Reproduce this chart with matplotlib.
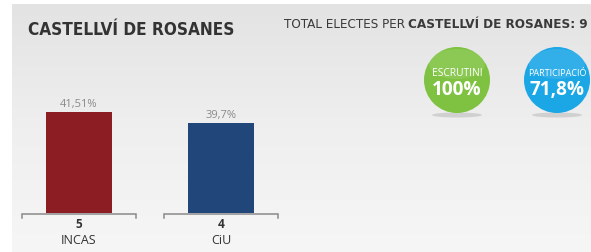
import matplotlib
matplotlib.use("Agg")
import matplotlib.pyplot as plt
import matplotlib.transforms as mtransforms
from matplotlib.patches import Circle, Ellipse
from matplotlib.colors import LinearSegmentedColormap
import numpy as np

parties = ["INCAS", "CiU"]
percents = [41.51, 39.7]
percent_labels = ["41,51%", "39,7%"]
seats = [5, 4]
bar_colors = ["#8c1d23", "#20467a"]

town = "CASTELLVÍ DE ROSANES"
total_seats = 9
scrutiny = "100%"
turnout = "71,8%"

fig = plt.figure(figsize=(5.91, 2.52), dpi=100)
fig.patch.set_facecolor("white")
renderer = fig.canvas.get_renderer()


def fit_width(texts, target):
    # shrink/grow a group of texts so their joint width is target pixels
    fig.canvas.draw()
    boxes = [t.get_window_extent(renderer) for t in texts]
    width = max(b.x1 for b in boxes) - min(b.x0 for b in boxes)
    scale = target / width
    for t in texts:
        t.set_fontsize(t.get_fontsize() * scale)


# background layer in pixel coordinates
bg = fig.add_axes([0, 0, 1, 1])
bg.set_xlim(0, 591)
bg.set_ylim(252, 0)
bg.axis("off")

grad = np.linspace(0, 1, 256).reshape(-1, 1)
cmap = LinearSegmentedColormap.from_list("panel", ["#e3e3e3", "#efefef", "#f6f6f6"])
bg.imshow(grad, cmap=cmap, aspect="auto", extent=(12, 591, 252, 4), zorder=0)

narrow = dict(family=["DejaVu Sans"], fontstretch="condensed")

title = bg.text(28, 35, town, fontsize=15, fontweight="bold", color="#333333",
                va="baseline", **narrow)
fit_width([title], 208)

bold_part = bg.text(588, 28, town + ": " + str(total_seats), fontsize=10,
                    fontweight="bold", color="#3a3a3a",
                    ha="right", va="baseline", **narrow)
reg_part = bg.annotate("TOTAL ELECTES PER ", xy=(0, 0), xycoords=bold_part,
                       fontsize=10, color="#3a3a3a",
                       ha="right", va="bottom", **narrow)
fit_width([bold_part, reg_part], 304)
reg_part.set_fontsize(bold_part.get_fontsize())

# badges
badges = [
    (457, "#7fc241", "ESCRUTINI", scrutiny, 50, 50),
    (557, "#1ba6e6", "PARTICIPACIÓ", turnout, 58, 55),
]
for cx, col, label, value, w_label, w_value in badges:
    bg.add_patch(Ellipse((cx, 115), 50, 5, color="#9a9a9a", alpha=0.35, lw=0, zorder=1))
    bg.add_patch(Circle((cx, 80), 33, color=col, lw=0, zorder=2))
    bg.add_patch(Ellipse((cx, 64), 56, 30, color="white", alpha=0.10, lw=0, zorder=3))
    t1 = bg.text(cx, 73, label, fontsize=6.5, color="white", family="Open Sans",
                 ha="center", va="center", zorder=4)
    t2 = bg.text(cx, 90, value, fontsize=14, fontweight="bold", color="white",
                 family="Open Sans", ha="center", va="center", zorder=4)
    fit_width([t1], w_label)
    fit_width([t2], w_value)

# bars
ax = fig.add_axes([8 / 591, 39 / 252, 284 / 591, 113 / 252])
ax.patch.set_alpha(0)
x = np.arange(len(parties))
ax.bar(x, percents, width=0.465, color=bar_colors)
ax.set_xlim(-0.5, 1.5)
ax.set_ylim(24.9, 43.49)
ax.axis("off")

for i, lab in enumerate(percent_labels):
    ax.annotate(lab, xy=(x[i], percents[i]), xytext=(0, 1.5),
                textcoords="offset points", ha="center", va="bottom",
                fontsize=8, color="#8a8a8a", family="Open Sans")

trans = mtransforms.blended_transform_factory(ax.transData, bg.transData)
for i in range(len(parties)):
    x0, x1 = x[i] - 0.40, x[i] + 0.40
    ax.plot([x0, x0, x1, x1], [218, 214, 214, 218], color="#8a8a8a",
            lw=1.1, transform=trans, clip_on=False, solid_joinstyle="miter")
    ax.text(x[i], 225, str(seats[i]), transform=trans, ha="center", va="center",
            fontsize=8.5, fontweight="bold", color="#333333", family="Open Sans")
    ax.text(x[i], 240, parties[i], transform=trans, ha="center", va="center",
            fontsize=9, color="#333333", family="Open Sans")

fig.savefig("out.png", dpi=100)
